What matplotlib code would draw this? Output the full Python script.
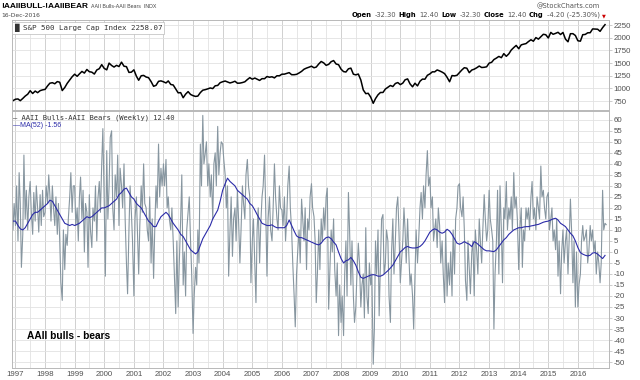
import matplotlib
matplotlib.use("Agg")
import matplotlib.pyplot as plt
import matplotlib.dates as mdates
import matplotlib.ticker as mticker
import pandas as pd
import numpy as np

plt.rcParams["axes.unicode_minus"] = False

# ---------------- data ----------------
# S&P 500 monthly closes (Dec 1996 .. Dec 2016)
spx = [757,
 786, 791, 757, 801, 848, 885, 954, 899, 947, 915, 955, 970,
 980, 1049, 1102, 1112, 1091, 1134, 1121, 957, 1017, 1099, 1164, 1229,
 1280, 1238, 1286, 1335, 1302, 1373, 1329, 1320, 1283, 1363, 1389, 1469,
 1394, 1366, 1499, 1452, 1421, 1455, 1431, 1518, 1437, 1429, 1315, 1320,
 1366, 1240, 1160, 1249, 1256, 1224, 1211, 1134, 1041, 1060, 1139, 1148,
 1130, 1107, 1147, 1077, 1067, 990, 912, 916, 815, 886, 936, 880,
 856, 841, 848, 917, 964, 975, 990, 1008, 996, 1051, 1058, 1112,
 1131, 1145, 1126, 1107, 1121, 1141, 1102, 1104, 1115, 1130, 1174, 1212,
 1181, 1204, 1181, 1157, 1192, 1191, 1234, 1220, 1229, 1207, 1249, 1248,
 1280, 1281, 1295, 1311, 1270, 1270, 1277, 1304, 1336, 1378, 1401, 1418,
 1438, 1407, 1421, 1482, 1531, 1503, 1455, 1474, 1527, 1549, 1481, 1468,
 1379, 1331, 1323, 1386, 1400, 1280, 1267, 1283, 1165, 969, 896, 903,
 826, 705, 798, 873, 919, 919, 987, 1021, 1057, 1036, 1096, 1115,
 1074, 1104, 1169, 1187, 1089, 1031, 1102, 1049, 1141, 1183, 1181, 1258,
 1286, 1327, 1326, 1364, 1345, 1321, 1292, 1219, 1131, 1253, 1247, 1258,
 1312, 1366, 1408, 1398, 1310, 1362, 1379, 1407, 1441, 1412, 1416, 1426,
 1498, 1515, 1569, 1598, 1631, 1606, 1686, 1633, 1682, 1757, 1806, 1848,
 1783, 1859, 1872, 1884, 1924, 1960, 1931, 2003, 1972, 2018, 2068, 2059,
 1995, 2105, 2068, 2086, 2107, 2063, 2104, 1972, 1920, 2079, 2080, 2044,
 1940, 1932, 2060, 2065, 2097, 2099, 2174, 2171, 2168, 2126, 2199, 2258]

# AAII bulls - bears, semi-monthly readings (Dec 1996 .. Dec 2016)
spread = [10, 22,
 12, 30, 5, 36, 22, -7, 8, 44, 15, 28, 10, 25, 32, 18, 8, 27, 14, 30, 20, 9, 26, 12, 28, 16,
 18, 30, 22, 35, 26, 14, 30, 20, 12, 25, 8, 22, 5, -14, -22, 10, -8, 8, 3, 15, 25, 36, 18, 30,
 30, 12, 20, 5, 25, 34, 15, 28, 0, 22, 18, -7, 26, 10, 2, 20, 14, 30, 5, 24, 32, 18, 40, 56,
 22, -11, 46, 15, 30, 52, 55, 20, 10, 35, 25, 44, 12, 38, 30, 20, 40, 15, -5, -19, 10, 30, 18, 5,
 -20, 15, 25, 8, -10, 12, 30, 18, 40, 22, 20, 10, 5, 25, -5, 15, -12, 10, 30, 20, 49, 25, 38, 30,
 40, 30, 42, 20, 25, 15, 10, 20, 5, -10, -28, 5, -25, -5, 15, 35, -15, 0, -20, 10, 18, 25, 5, -10,
 -37, -20, -7, -15, 10, -5, 49, 30, 62, 40, 45, 50, 30, 40, 25, 35, 15, 40, 45, 30, 57, 35, 45, 50,
 49, 42, 35, 20, 30, -11, 10, 25, -2, 15, 20, 5, 28, 15, -5, 10, 30, 22, 15, 35, 42, 30, 25, -14,
 5, 15, -5, -23, 10, 20, -5, 12, 25, 30, 44, 20, -11, 15, 25, 10, 5, 20, 40, 25, 15, 10, 30, 20,
 19, 12, 25, 5, 15, 30, 39, 20, 10, -5, -20, -34, -10, 0, 10, -5, 24, 15, 5, 20, -8, 15, 10, 25,
 31, 20, 16, 5, -23, -10, 10, -8, 15, 5, 20, 10, 25, 29, -26, -10, 10, 0, 15, -8, -20, -5, -38, -15,
 -32, -20, -38, -10, 5, -20, 27, 10, -15, 5, -20, -32, -25, -10, 4, -5, -25, -15, -10, -30, 11, -20, -28, -5,
 -15, -10, -51, -35, 5, -10, 10, -29, -5, 15, 17, -10, -5, 10, 5, -20, -32, 0, 15, -10, 5, 20, 25, 10,
 -14, -5, 5, 20, 10, -5, 15, 0, -15, -10, -20, -35, -10, 10, -5, 5, 20, 27, 15, 30, 20, 35, 46, 30,
 34, 20, 25, 5, 10, 15, 2, 20, 12, -5, 5, -10, -23, 10, -20, -5, -15, 0, -20, 10, -10, 15, 20, 30,
 31, 20, 16, 25, 10, -13, -22, 5, -8, -19, 0, 5, -20, 10, 0, -10, 15, 5, -5, 10, 26, 15, 5, 10,
 28, 15, 10, 5, -35, -10, 5, 28, -10, 30, 10, -14, 20, 15, 32, 10, 20, 15, 25, 10, 36, 20, 25, 15,
 -8, 10, 20, -7, 10, 5, 20, 15, 20, 10, 25, 32, 15, 20, 10, 25, 20, 15, 39, 25, 28, 20, 15, 25,
 27, 10, 15, 20, 5, 10, 1, 15, -11, 5, -19, 0, 10, -5, 5, 10, -10, 5, 24, 10, -14, 5, -25, 0,
 -25, -15, -10, 5, 12, 5, 7, 10, -5, 0, 12, 5, 10, 0, 5, -10, 0, -5, -14, -5, 28, 10, 13, 12.4]

# 52-week moving average, monthly readings (Dec 1996 .. Dec 2016)
ma52 = [14,
 14, 12, 10.5, 10, 11, 13, 15, 17, 18, 18, 19, 20,
 21, 22, 23.5, 23, 21, 19, 17, 15, 13, 12.5, 12, 12.5,
 12, 12.5, 13, 14, 15, 16, 15.5, 16, 17, 18, 19, 20,
 20, 20.5, 21, 22, 23, 24, 26, 27, 28.5, 29, 27, 25,
 24, 22, 21, 20, 18, 16, 14, 13, 11.5, 11.5, 14, 16,
 17, 18, 17, 15, 13, 11.5, 10, 8, 7, 5, 3, 1,
 0, -0.9, 0, 3, 6, 8, 10, 12, 15, 17, 19, 23,
 28, 31, 33.5, 32, 31, 30, 28, 27, 26, 25, 24, 22,
 21, 19, 17, 15, 13, 12.5, 12, 12, 12.3, 11.5, 11, 11,
 11, 11, 12, 14.5, 12, 9.5, 7.3, 6.5, 6.5, 6, 5.5, 5,
 4.5, 4, 3.5, 3.2, 4, 5.5, 6.5, 6.8, 6, 4.5, 3.2, 0,
 -3, -5, -4, -3.6, -2.5, -4, -6, -9, -11.5, -12, -11.5, -11,
 -10.5, -10.3, -10.5, -11, -11, -10.5, -9.5, -8.5, -7.3, -6, -4, -2,
 0, 1, 2, 2.5, 2, 1.8, 1.8, 2, 2.5, 3.5, 5, 7,
 9, 10, 10.5, 10, 9, 8.5, 9, 10.3, 9.5, 8, 6, 4,
 3.5, 4, 4.7, 4, 3.5, 2.4, 4.7, 4, 3, 2, 1, 0.5,
 0.5, 0.3, 0.15, 1, 2.5, 4, 5.5, 6.5, 8, 9, 10, 10.5,
 11, 11, 11.3, 11.5, 11.5, 11.8, 12, 12.3, 12.5, 13, 13.5, 13.8,
 14, 14.5, 15, 15.3, 14.5, 13, 12.3, 11.5, 10, 8.5, 7.3, 5,
 2, -0.3, -1, -1.5, -1.8, -1.5, -0.5, -0.3, -1, -2, -3, -1.56]

years = list(range(1997, 2017))
spx_ticks = [750, 1000, 1250, 1500, 1750, 2000, 2250]
spread_ticks = list(range(-50, 65, 5))

spx_dates = pd.date_range("1996-12-01", periods=len(spx), freq="MS")
ma_dates = pd.date_range("1996-12-01", periods=len(ma52), freq="MS")
spread_dates = pd.date_range("1996-12-01", periods=len(spread), freq="SMS")

# ---------------- figure ----------------
W, H = 640, 380
fig = plt.figure(figsize=(6.4, 3.8), dpi=100)
fig.patch.set_facecolor("white")
renderer = fig.canvas.get_renderer()

def fx(px):
    return px / W

def fy(py):
    return 1 - py / H

L, R = 12, 609
ax1 = fig.add_axes([fx(L), fy(110), fx(R - L), (110 - 20) / H])
ax2 = fig.add_axes([fx(L), fy(368), fx(R - L), (368 - 111) / H], sharex=ax1)

xmin = pd.Timestamp("1996-11-19")
xmax = pd.Timestamp("2017-01-19")
year_pos = [mdates.date2num(pd.Timestamp(f"{y}-01-01")) for y in years]
half_pos = [mdates.date2num(pd.Timestamp(f"{y}-07-01")) for y in years]

grid_major = "#c9c9c9"
grid_minor = "#e2e2e2"
spine_c = "#b8b8b8"
lab_c = "#505050"
tick_font = "Liberation Sans"

for ax in (ax1, ax2):
    ax.set_xlim(xmin, xmax)
    ax.xaxis.set_major_locator(mticker.FixedLocator(year_pos))
    ax.xaxis.set_minor_locator(mticker.FixedLocator(half_pos))
    ax.xaxis.set_major_formatter(mticker.FixedFormatter([str(y) for y in years]))
    ax.grid(True, which="major", axis="x", color=grid_major, lw=0.6)
    ax.grid(True, which="minor", axis="x", color=grid_minor, lw=0.6)
    ax.grid(True, which="major", axis="y", color=grid_minor, lw=0.6)
    ax.set_axisbelow(True)
    for s in ax.spines.values():
        s.set_color(spine_c)
        s.set_linewidth(0.7)
    ax.yaxis.tick_right()
    ax.tick_params(axis="y", which="both", direction="out", length=2, width=0.5,
                   color=spine_c, labelsize=5.7, labelcolor=lab_c, pad=1.5)
    ax.tick_params(axis="x", which="both", length=0)

ax1.tick_params(axis="x", labelbottom=False)
ax2.tick_params(axis="x", labelsize=5.7, labelcolor=lab_c, pad=2)

# top panel
ax1.plot(spx_dates, spx, color="black", lw=1.1)
ax1.set_ylim(573, 2350)
ax1.set_yticks(spx_ticks)

# bottom panel
ax2.plot(spread_dates, spread, color="#8796a0", lw=0.8)
ax2.plot(ma_dates, ma52, color="#2b2ba8", lw=0.8)
ax2.set_ylim(-52.7, 64)
ax2.set_yticks(spread_ticks)

for ax in (ax1, ax2):
    for lab in ax.get_yticklabels() + ax.get_xticklabels():
        lab.set_family(tick_font)

# ---------------- texts ----------------
t = fig.text(fx(1), fy(8), "!AAIIBULL-!AAIIBEAR", family="Liberation Sans",
             weight="bold", size=6.0, color="black")
bb = t.get_window_extent(renderer)
fig.text((bb.x1 + 3) / W, fy(8), "AAII Bulls-AAII Bears  INDX", family="Liberation Sans",
         size=3.8, color="#444444")
fig.text(fx(1), fy(17), "16-Dec-2016", family="DejaVu Sans", size=4.3, color="#444444")
fig.text(fx(600), fy(8.5), "@StockCharts.com", family="DejaVu Sans", size=4.8,
         color="#555555", ha="right")

ohlc = [("Open", True), ("-32.30", False), ("High", True), ("12.40", False),
        ("Low", True), ("-32.30", False), ("Close", True), ("12.40", False),
        ("Chg", True), ("-4.20 (-25.30%)", False)]
xr = 600.0
for txt, b in reversed(ohlc):
    tt = fig.text(xr / W, fy(17), txt, family="DejaVu Sans", size=4.9, ha="right",
                  weight="bold" if b else "normal", color="black" if b else "#555555")
    bb = tt.get_window_extent(renderer)
    xr = bb.x0 - (3.5 if not b else 2.0)
fig.text(fx(602), fy(17.5), "\u25bc", family="DejaVu Sans", size=3.6, color="#cc0000")

ax1.text(0.003, 0.955, "\u2588 S&P 500 Large Cap Index 2258.07", transform=ax1.transAxes,
         family="DejaVu Sans Mono", size=5.4, color="#333333", va="top", ha="left",
         bbox=dict(boxstyle="square,pad=0.25", fc="white", ec="#bbbbbb", lw=0.5))

ax2.text(0.002, 0.987, "\u2014 AAII Bulls-AAII Bears (Weekly) 12.40", transform=ax2.transAxes,
         family="DejaVu Sans Mono", size=5.1, color="#333333", va="top", ha="left")
ax2.text(0.002, 0.958, "\u2014MA(52) -1.56", transform=ax2.transAxes,
         family="Liberation Sans", size=5.0, color="#2b2ba8", va="top", ha="left")

fig.text(fx(27), fy(336), "AAII bulls - bears", family="Liberation Sans",
         weight="bold", size=7.3, color="black", va="center")

fig.savefig("out.png", dpi=100)
